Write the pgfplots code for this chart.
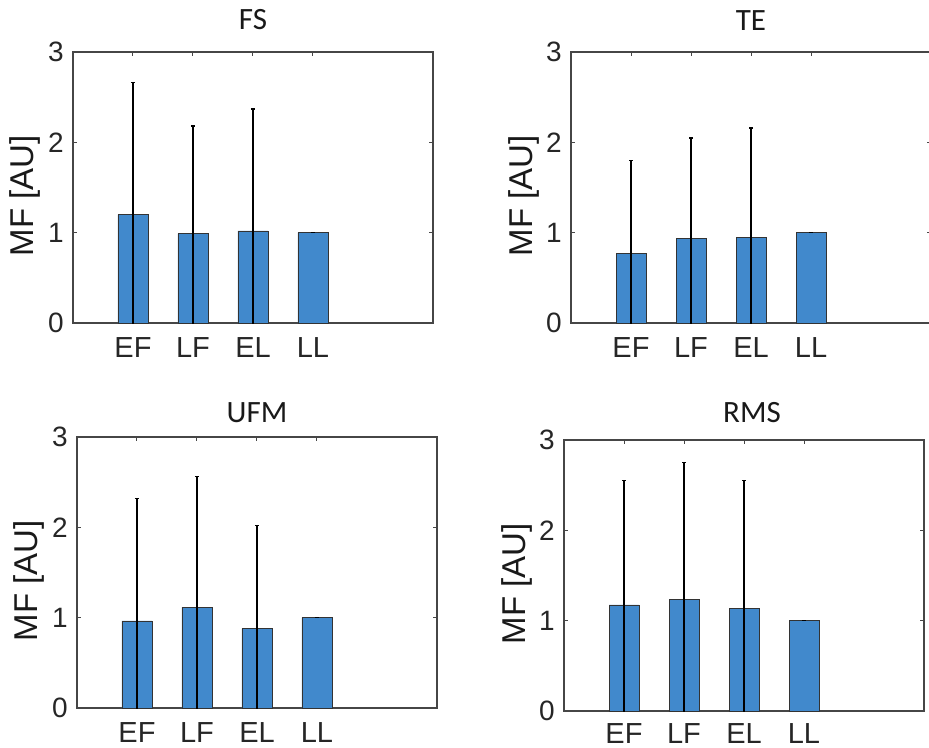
\documentclass[border=0pt]{standalone}
\usepackage{fontspec}
\setmainfont{Liberation Sans}
\newfontfamily\titlefont{Carlito}
\usepackage{pgfplots}
\usepackage{pgfplotstable}
\pgfplotsset{compat=1.18}
\definecolor{barblue}{RGB}{65,137,204}
\definecolor{axgray}{RGB}{70,70,70}

\pgfplotstableread{
x y e
1 1.20 1.46
2 0.99 1.19
3 1.02 1.35
4 1.00 0
}\dataFS
\pgfplotstableread{
x y e
1 0.77 1.03
2 0.935 1.115
3 0.945 1.215
4 1.00 0
}\dataTE
\pgfplotstableread{
x y e
1 0.965 1.355
2 1.115 1.45
3 0.88 1.14
4 1.00 0
}\dataUFM
\pgfplotstableread{
x y e
1 1.175 1.375
2 1.235 1.515
3 1.135 1.415
4 1.00 0
}\dataRMS

\pgfplotsset{
  mf/.style={
    scale only axis, width=360pt, height=271pt,
    anchor=south west,
    ybar, bar width=0.5,
    xmin=0, xmax=6, ymin=0, ymax=3,
    xtick={1,2,3,4}, xticklabels={EF,LF,EL,LL},
    ytick={0,1,2,3},
    tick pos=both, tick align=inside, major tick length=4pt,
    axis line style={axgray, line width=1.1pt},
    every tick/.style={axgray, line width=1pt},
    xticklabel style={font=\fontsize{29}{33}\selectfont, anchor=base, inner sep=0pt, text depth=0pt, yshift=-34pt, text=black!85},
    yticklabel style={font=\fontsize{28}{32}\selectfont, anchor=east, inner sep=0pt, xshift=-9pt, text=black!85},
    ylabel={MF [AU]},
    ylabel style={font=\fontsize{33}{38}\selectfont, at={([xshift=-39pt]axis description cs:0,0.47)}, anchor=base, inner sep=0pt, text=black!90},
    title style={font=\titlefont\fontsize{31}{35}\selectfont, at={(axis description cs:0.5,1)}, anchor=base, inner sep=0pt, text=black!90},
    /pgf/number format/assume math mode=true,
  },
  mfplot/.style={
    fill=barblue, draw=black!80, line width=0.6pt,
    error bars/.cd, y dir=both, y explicit,
    error bar style={black, line width=1.5pt},
    error mark options={rotate=90, mark size=2pt, black, line width=1.5pt},
  },
}

\begin{document}
\begin{tikzpicture}[x=1pt,y=1pt]
\begin{axis}[mf, at={(73pt,-323pt)}, title={FS}, title style={yshift=16.5pt}]
  \addplot[mfplot] table[x=x, y=y, y error=e] {\dataFS};
\end{axis}
\begin{axis}[mf, at={(571pt,-323pt)}, title={TE}, title style={yshift=15.5pt}]
  \addplot[mfplot] table[x=x, y=y, y error=e] {\dataTE};
\end{axis}
\begin{axis}[mf, at={(77pt,-708pt)}, title={UFM}, title style={yshift=9pt}]
  \addplot[mfplot] table[x=x, y=y, y error=e] {\dataUFM};
\end{axis}
\begin{axis}[mf, at={(564pt,-711pt)}, title={RMS}, title style={yshift=12pt, xshift=8pt},
  xticklabel style={yshift=2pt}]
  \addplot[mfplot] table[x=x, y=y, y error=e] {\dataRMS};
\end{axis}
\pgfresetboundingbox
\path[use as bounding box] (0pt,0pt) rectangle (929pt,-747pt);
\end{tikzpicture}
\end{document}
